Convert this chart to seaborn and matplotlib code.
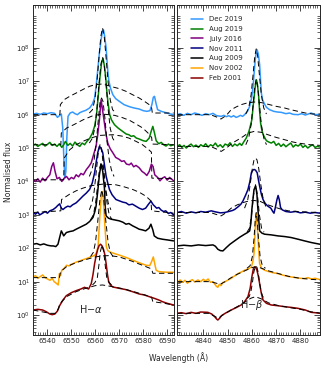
import numpy as np
import pandas as pd
import matplotlib
matplotlib.use('Agg')
import matplotlib.pyplot as plt
from matplotlib.lines import Line2D
from matplotlib.ticker import MultipleLocator, FixedLocator, LogLocator, NullFormatter
import seaborn as sns

########################################
# 1. DATA  (wavelength in A, log10 of normalised flux incl. offset)
########################################
epochs = ["Dec 2019", "Aug 2019", "July 2016", "Nov 2011", "Aug 2009", "Nov 2002", "Feb 2001"]
colors = ["#3399ff", "green", "purple", "navy", "black", "orange", "darkred"]

# ---- H-alpha spectra ----
ha_dec2019 = [(6534, 6.02), (6535.5, 6.04), (6537, 6.01), (6538.5, 6.05), (6540, 6.03), (6541.5, 6.06),
              (6543, 6.04), (6544.2, 5.92), (6545, 5.97), (6545.8, 6.02), (6546.4, 5.6), (6546.9, 4.6),
              (6547.3, 4.1), (6547.7, 4.3), (6548.1, 5.3), (6548.6, 5.95), (6549.5, 6.05), (6550.5, 6.08),
              (6551.5, 6.03), (6552.5, 6.0), (6553.5, 6.06), (6554.8, 6.1), (6556, 6.13), (6557.6, 6.2),
              (6558.8, 6.32), (6559.7, 6.5), (6560.4, 6.9), (6561, 7.34), (6561.7, 7.85), (6562.4, 8.24),
              (6563.0, 8.5), (6563.4, 8.54), (6563.9, 8.35), (6564.5, 8.0), (6565.1, 7.4), (6565.6, 7.04),
              (6566.3, 6.8), (6567.3, 6.6), (6568.5, 6.48), (6570, 6.4), (6572, 6.3), (6574.2, 6.24),
              (6576.2, 6.2), (6578.3, 6.17), (6580, 6.12), (6581.5, 6.1), (6582.8, 6.12), (6583.6, 6.3),
              (6584.2, 6.52), (6584.7, 6.55), (6585.3, 6.35), (6586, 6.15), (6587.5, 6.1), (6589, 6.07),
              (6590.8, 6.03), (6592.7, 6.0)]
ha_aug2019 = [(6534, 5.08), (6535, 5.12), (6536, 5.05), (6537, 5.1), (6538, 5.14), (6539, 5.06), (6540, 5.11),
              (6541, 5.17), (6542, 5.08), (6543, 5.12), (6544, 5.05), (6545, 5.13), (6546, 5.02), (6546.8, 5.1),
              (6547.5, 5.2), (6548.5, 5.08), (6549.5, 5.14), (6550.5, 5.06), (6551.5, 5.18), (6552.5, 5.1),
              (6553.5, 5.05), (6554.5, 5.15), (6555.5, 5.1), (6556.5, 5.2), (6557.7, 5.3), (6558.8, 5.45),
              (6559.8, 5.68), (6560.5, 6.0), (6561.2, 6.55), (6561.9, 7.1), (6562.6, 7.55), (6563.2, 7.69),
              (6563.8, 7.45), (6564.3, 7.14), (6564.8, 6.7), (6565.3, 6.35), (6566, 6.0), (6566.7, 5.85),
              (6568, 5.7), (6569.5, 5.6), (6571, 5.52), (6572.9, 5.42), (6574, 5.4), (6575, 5.35), (6576, 5.37),
              (6577.1, 5.3), (6578, 5.28), (6579, 5.25), (6580, 5.22), (6581.2, 5.2), (6582.5, 5.3),
              (6583.3, 5.5), (6584.0, 5.65), (6584.7, 5.45), (6585.4, 5.22), (6586.5, 5.13), (6587.5, 5.17),
              (6588.5, 5.1), (6589.5, 5.06), (6590.5, 5.12), (6591.5, 5.07), (6592.7, 5.1)]
ha_jul2016 = [(6534, 4.05), (6535, 4.0), (6536, 4.08), (6537, 3.98), (6538, 4.1), (6539, 4.02), (6540, 4.12),
              (6541, 4.2), (6541.8, 4.45), (6542.5, 4.56), (6543.2, 4.3), (6544, 4.08), (6545, 4.12),
              (6546, 4.0), (6547, 4.1), (6548, 4.15), (6549, 4.05), (6550, 4.12), (6551, 4.08), (6552, 4.2),
              (6553, 4.14), (6554, 4.24), (6555, 4.2), (6556.3, 4.36), (6557.3, 4.45), (6558.3, 4.56),
              (6559.1, 4.76), (6560.3, 5.05), (6561.0, 5.4), (6561.7, 5.85), (6562.4, 6.45), (6563.1, 6.1),
              (6563.8, 5.75), (6564.5, 5.4), (6565.2, 5.15), (6566.2, 4.98), (6567.3, 4.86), (6568.5, 4.72),
              (6570, 4.66), (6571, 4.6), (6572, 4.62), (6573, 4.52), (6574.2, 4.5), (6575, 4.55), (6576, 4.44),
              (6577, 4.48), (6578.3, 4.41), (6579.5, 4.3), (6580.5, 4.25), (6581.5, 4.18), (6582.5, 4.3),
              (6583.4, 4.52), (6584.1, 4.45), (6584.8, 4.2), (6586, 4.12), (6587, 4.02), (6588, 4.1),
              (6589, 4.14), (6590, 4.04), (6591, 4.12), (6592.7, 4.02)]
ha_nov2011 = [(6534, 3.07), (6535, 3.02), (6536, 3.08), (6536.8, 3.0), (6538, 3.05), (6539, 3.1), (6540, 3.05),
              (6541, 3.12), (6542.4, 3.16), (6543.5, 3.22), (6544.3, 3.28), (6545.1, 3.33), (6545.8, 3.2),
              (6546.5, 3.16), (6547.5, 3.22), (6548.5, 3.26), (6549.5, 3.24), (6550.5, 3.3), (6552, 3.36),
              (6553.3, 3.45), (6554.8, 3.56), (6556.2, 3.65), (6557.6, 3.76), (6558.7, 3.95), (6559.7, 4.26),
              (6560.4, 4.6), (6561, 4.86), (6561.7, 5.05), (6562.4, 5.0), (6563.1, 4.86), (6563.8, 4.5),
              (6564.5, 4.16), (6565.2, 3.95), (6565.9, 3.76), (6567, 3.6), (6568.6, 3.46), (6570, 3.42),
              (6571.5, 3.38), (6572.8, 3.36), (6574, 3.3), (6575.5, 3.32), (6576.9, 3.26), (6578.3, 3.2),
              (6579.7, 3.16), (6581, 3.2), (6582.2, 3.32), (6583.2, 3.41), (6584.2, 3.3), (6585.6, 3.2),
              (6586.5, 3.22), (6587.5, 3.14), (6588.5, 3.1), (6589.4, 3.12), (6590.5, 3.04), (6591.5, 3.07),
              (6592.7, 3.0)]
ha_aug2009 = [(6534, 2.12), (6535.5, 2.14), (6537, 2.1), (6538.5, 2.13), (6540, 2.09), (6541.5, 2.07),
              (6542.4, 2.07), (6543.5, 2.05), (6544.4, 2.12), (6545.2, 2.35), (6545.8, 2.52), (6546.3, 2.45),
              (6546.8, 2.37), (6547.9, 2.47), (6549.3, 2.5), (6550.7, 2.52), (6552, 2.57), (6553.4, 2.62),
              (6554.8, 2.67), (6556.2, 2.72), (6557.6, 2.8), (6559, 2.92), (6559.8, 3.1), (6560.3, 3.26),
              (6561, 3.7), (6561.7, 4.2), (6562.4, 4.52), (6563.1, 4.3), (6563.8, 3.8), (6564.1, 3.26),
              (6564.5, 2.97), (6565.5, 2.9), (6566.6, 2.87), (6568, 2.85), (6570, 2.82), (6571.5, 2.78),
              (6572.8, 2.72), (6574, 2.74), (6575.6, 2.67), (6577, 2.62), (6578.3, 2.57), (6579.6, 2.55),
              (6581, 2.52), (6582.4, 2.6), (6583.2, 2.72), (6584, 2.55), (6584.6, 2.37), (6586, 2.3),
              (6588, 2.27), (6590, 2.25), (6592.7, 2.22)]
ha_nov2002 = [(6534, 1.14), (6535, 1.18), (6536, 1.1), (6537, 1.15), (6538, 1.2), (6539, 1.12), (6540, 1.08),
              (6541.1, 1.04), (6542, 1.1), (6542.8, 1.0), (6543.9, 0.94), (6544.5, 0.9), (6545, 1.24),
              (6545.5, 1.18), (6546, 1.34), (6547, 1.4), (6548, 1.49), (6549, 1.47), (6550, 1.52), (6551, 1.55),
              (6552.2, 1.59), (6553.5, 1.62), (6555, 1.66), (6556.3, 1.69), (6558, 1.74), (6559.8, 1.79),
              (6560.7, 1.9), (6561.2, 2.1), (6561.9, 2.97), (6562.4, 3.5), (6562.8, 3.7), (6563.3, 3.5),
              (6563.9, 2.77), (6564.6, 2.04), (6565.2, 1.93), (6566, 1.89), (6568, 1.84), (6570.2, 1.79),
              (6573, 1.72), (6575.7, 1.64), (6578.5, 1.56), (6581.2, 1.49), (6582.7, 1.48), (6583.5, 1.6),
              (6584.2, 1.74), (6584.9, 1.5), (6585.4, 1.34), (6586.5, 1.3), (6588.2, 1.29), (6590, 1.28),
              (6592.7, 1.28)]
ha_feb2001 = [(6534, 0.15), (6536, 0.17), (6538, 0.15), (6539.5, 0.1), (6541, 0.03), (6542, 0.01),
              (6543.1, 0.03), (6544.2, 0.12), (6545.1, 0.28), (6546.5, 0.45), (6547.9, 0.58), (6550, 0.67),
              (6552, 0.73), (6554, 0.78), (6555.5, 0.83), (6556.5, 0.8), (6557.2, 0.78), (6558.3, 0.94),
              (6559, 1.2), (6559.7, 1.54), (6560.4, 1.8), (6561, 1.97), (6561.6, 2.08), (6562.2, 2.12),
              (6562.8, 2.07), (6563.4, 1.97), (6564, 1.8), (6564.5, 1.54), (6565.1, 1.2), (6565.6, 0.99),
              (6566.3, 0.9), (6567.3, 0.84), (6570, 0.8), (6572.8, 0.76), (6575.5, 0.7), (6578.3, 0.63),
              (6580.5, 0.6), (6582.5, 0.55), (6584.6, 0.5), (6586.5, 0.45), (6588, 0.4), (6590, 0.35),
              (6592.7, 0.3)]

# ---- H-beta spectra (no July 2016 spectrum here) ----
hb_dec2019 = [(4829.3, 6.0), (4830.5, 6.03), (4832, 5.98), (4833.5, 6.04), (4835, 6.0), (4836.5, 6.05),
              (4838, 6.02), (4839.5, 5.98), (4841, 6.03), (4842.5, 6.0), (4844, 6.04), (4845.5, 5.97),
              (4847.4, 5.95), (4848.5, 5.98), (4849.5, 5.94), (4850.5, 5.97), (4851.5, 5.93), (4852.5, 5.97),
              (4853.5, 5.92), (4854.3, 5.94), (4855.3, 5.98), (4856.2, 5.95), (4857, 6.0), (4858.2, 6.1),
              (4859.1, 6.25), (4859.9, 6.5), (4860.5, 6.85), (4861, 7.3), (4861.4, 7.64), (4861.8, 7.88),
              (4862.2, 7.94), (4862.7, 7.8), (4863.2, 7.5), (4863.6, 7.0), (4863.9, 6.65), (4864.4, 6.45),
              (4865, 6.35), (4866, 6.22), (4867.3, 6.15), (4869, 6.1), (4870.5, 6.08), (4872.1, 6.07),
              (4874, 6.03), (4875.5, 6.05), (4877, 6.01), (4879, 6.0), (4880.5, 6.03), (4882, 5.99),
              (4884.4, 6.05), (4886, 6.0), (4888, 6.01)]
hb_aug2019 = [(4829.3, 5.05), (4830.3, 5.1), (4831.2, 5.02), (4832.1, 5.08), (4833, 5.0), (4834, 5.07),
              (4835, 5.12), (4836, 5.04), (4837, 5.09), (4838, 5.02), (4839, 5.1), (4840, 5.05), (4841, 5.13),
              (4842, 5.03), (4843, 5.1), (4844, 5.06), (4845, 5.15), (4846, 5.04), (4847, 5.1), (4848, 5.02),
              (4849, 5.12), (4850.2, 5.08), (4851, 5.16), (4852, 5.05), (4853, 5.12), (4854, 5.07),
              (4855, 5.14), (4855.8, 5.08), (4856.8, 5.2), (4857.7, 5.3), (4858.8, 5.5), (4859.5, 5.7),
              (4860, 5.85), (4860.6, 6.3), (4861.1, 6.65), (4861.5, 6.9), (4861.9, 7.04), (4862.3, 6.9),
              (4862.8, 6.55), (4863.2, 6.1), (4863.6, 5.75), (4864.2, 5.5), (4865, 5.35), (4866, 5.22),
              (4867, 5.18), (4868, 5.15), (4869, 5.2), (4870, 5.08), (4871, 5.14), (4872, 5.05), (4873, 5.12),
              (4874, 5.04), (4875, 5.1), (4876, 5.15), (4877, 5.03), (4878, 5.1), (4879, 5.06), (4880, 5.12),
              (4881, 5.02), (4882, 5.08), (4883, 5.0), (4884, 5.06), (4885, 5.1), (4886, 5.02), (4887, 5.05),
              (4888, 5.03)]
hb_nov2011 = [(4829.3, 3.07), (4831, 3.1), (4833, 3.05), (4835, 3.09), (4837, 3.06), (4839, 3.1), (4841, 3.08),
              (4843.3, 3.12), (4845, 3.09), (4847, 3.06), (4848.8, 3.07), (4850.5, 3.1), (4852, 3.13),
              (4852.9, 3.16), (4854.5, 3.25), (4855.5, 3.32), (4856.3, 3.41), (4857.5, 3.6), (4858.4, 3.76),
              (4859.2, 4.0), (4859.8, 4.26), (4860.4, 4.34), (4860.9, 4.36), (4861.5, 4.34), (4862.2, 4.26),
              (4862.7, 4.05), (4863.2, 3.86), (4863.9, 3.62), (4864.6, 3.46), (4865.5, 3.34), (4866.6, 3.26),
              (4867.8, 3.2), (4868.6, 3.1), (4869.1, 3.05), (4869.6, 3.2), (4870.3, 3.45), (4870.8, 3.58),
              (4871.3, 3.45), (4871.8, 3.22), (4872.5, 3.15), (4874, 3.1), (4876, 3.08), (4878, 3.1),
              (4880, 3.06), (4882, 3.08), (4884, 3.05), (4886, 3.07), (4888, 3.05)]
hb_aug2009 = [(4829.3, 2.07), (4832, 2.09), (4835, 2.07), (4838, 2.1), (4841, 2.08), (4844, 2.1), (4845, 2.06),
              (4846, 1.97), (4847, 1.93), (4848.1, 1.92), (4849.5, 2.02), (4851, 2.12), (4852.9, 2.22),
              (4855, 2.33), (4857, 2.42), (4858.2, 2.47), (4859.1, 2.52), (4859.6, 2.75), (4860, 3.16),
              (4860.5, 3.5), (4860.9, 3.76), (4861.6, 3.86), (4862.1, 3.6), (4862.5, 3.16), (4863.2, 2.52),
              (4864.2, 2.45), (4865.3, 2.42), (4868, 2.4), (4870.7, 2.37), (4873.5, 2.35), (4876.2, 2.32),
              (4879, 2.27), (4881.7, 2.22), (4884.5, 2.17), (4888, 2.12)]
hb_nov2002 = [(4829.3, 0.97), (4830.5, 1.05), (4831.5, 0.98), (4832.5, 1.04), (4833.5, 0.95), (4834.5, 1.02),
              (4835.5, 1.06), (4836.5, 0.99), (4837.8, 1.05), (4839, 1.0), (4840, 1.07), (4841, 1.02),
              (4842, 1.08), (4843, 0.98), (4844, 1.0), (4844.7, 0.93), (4845.4, 0.86), (4846, 0.83),
              (4846.6, 0.92), (4847.3, 0.88), (4848, 0.97), (4849, 1.0), (4850.2, 1.05), (4851.5, 1.1),
              (4852.5, 1.15), (4853.5, 1.2), (4854.3, 1.24), (4855.5, 1.28), (4857, 1.34), (4858.5, 1.38),
              (4859.8, 1.44), (4860.4, 1.6), (4860.9, 1.84), (4861.2, 2.3), (4861.5, 2.8), (4861.8, 3.04),
              (4862.1, 2.8), (4862.5, 2.34), (4862.9, 1.85), (4863.2, 1.54), (4864, 1.4), (4865.3, 1.34),
              (4867, 1.3), (4868.5, 1.27), (4870.7, 1.24), (4872.5, 1.2), (4874, 1.17), (4876.2, 1.14),
              (4878, 1.12), (4880, 1.1), (4881.7, 1.09), (4883, 1.12), (4884.5, 1.08), (4886, 1.1), (4888, 1.06)]
hb_feb2001 = [(4829.3, 0.05), (4831, 0.07), (4833, 0.04), (4835, 0.08), (4837, 0.05), (4839, 0.09),
              (4841.9, 0.08), (4843.5, 0.03), (4844.7, -0.05), (4845.5, -0.12), (4846, -0.15), (4846.7, -0.1),
              (4847.5, -0.02), (4849, 0.05), (4851.5, 0.15), (4853.5, 0.22), (4855.6, 0.3), (4857, 0.4),
              (4858.4, 0.55), (4859.3, 0.8), (4860, 1.14), (4860.6, 1.38), (4861.1, 1.44), (4861.6, 1.42),
              (4862.1, 1.34), (4862.7, 1.15), (4863.2, 0.94), (4863.9, 0.65), (4864.6, 0.45), (4866, 0.35),
              (4868, 0.3), (4870.5, 0.28), (4873.5, 0.25), (4876, 0.23), (4879, 0.2), (4882, 0.15),
              (4884.4, 0.08), (4886, 0.07), (4888, 0.05)]

# ---- model fits (black dashed): broad component and narrow component ----
ha_broad_dec2019 = [(6534, 6.0), (6545.2, 6.0), (6545.4, 6.3), (6547, 6.45), (6549.3, 6.55), (6551.5, 6.63),
                    (6553.4, 6.7), (6555.5, 6.78), (6557.6, 6.85), (6560, 6.9), (6563, 6.92), (6567.3, 6.83),
                    (6570, 6.78), (6572.8, 6.7), (6575.5, 6.6), (6578.3, 6.5), (6580.5, 6.4), (6582.5, 6.3),
                    (6583.5, 6.2), (6583.8, 6.05), (6592.7, 6.05)]
ha_broad_aug2019 = [(6534, 5.1), (6545.6, 5.1), (6545.8, 5.45), (6548, 5.6), (6551, 5.7), (6555, 5.85),
                    (6559, 5.97), (6563, 6.02), (6568, 5.98), (6571, 5.92), (6574.3, 5.83), (6577, 5.72),
                    (6579.8, 5.6), (6582, 5.45), (6583.5, 5.32), (6583.8, 5.12), (6592.7, 5.1)]
ha_broad_jul2016 = [(6534, 4.05), (6546.8, 4.05), (6547, 4.7), (6549.3, 4.95), (6552, 5.1), (6554.8, 5.2),
                    (6558, 5.3), (6562, 5.38), (6567.3, 5.4), (6571, 5.36), (6574, 5.3), (6577, 5.2),
                    (6579.7, 5.1), (6582, 4.97), (6583.4, 4.88), (6583.6, 4.1), (6592.7, 4.08)]
ha_broad_nov2011 = [(6534, 3.07), (6545.6, 3.12), (6545.9, 3.46), (6549.3, 3.62), (6552, 3.72), (6554.8, 3.8),
                    (6558, 3.87), (6563, 3.92), (6568.6, 3.9), (6572, 3.84), (6575.6, 3.76), (6578.5, 3.67),
                    (6581.1, 3.56), (6583.2, 3.42), (6583.5, 3.12), (6592.7, 3.05)]
ha_broad_nov2002 = [(6534, 1.12), (6545, 1.12), (6545.5, 1.3), (6548, 1.45), (6552, 1.57), (6556, 1.66),
                    (6560, 1.74), (6563, 1.77), (6566, 1.78), (6570, 1.74), (6575, 1.62), (6580, 1.48),
                    (6583.5, 1.38), (6584, 1.25), (6592.7, 1.25)]
ha_broad_feb2001 = [(6534, 0.15), (6541, 0.05), (6543.5, 0.05), (6544.5, 0.18), (6545.3, 0.35), (6548, 0.55),
                    (6552, 0.7), (6556, 0.8), (6560, 0.88), (6563, 0.9), (6567, 0.85), (6572, 0.78),
                    (6577, 0.68), (6582, 0.57), (6583.5, 0.53), (6584, 0.4), (6588, 0.36), (6592.7, 0.3)]

ha_narrow_dec2019 = [(6557.5, 6.05), (6558.8, 6.15), (6559.8, 6.45), (6560.7, 7.0), (6561.5, 7.7), (6562.3, 8.35),
                     (6563, 8.6), (6563.7, 8.35), (6564.5, 7.7), (6565.3, 7.0), (6566.2, 6.45), (6567.2, 6.15),
                     (6568.5, 6.05)]
ha_narrow_aug2019 = [(6557.5, 5.15), (6558.8, 5.3), (6559.8, 5.6), (6560.7, 6.2), (6561.5, 6.9), (6562.3, 7.5),
                     (6563, 7.72), (6563.7, 7.5), (6564.5, 6.9), (6565.3, 6.2), (6566.2, 5.6), (6567.2, 5.3),
                     (6568.5, 5.15)]
ha_narrow_jul2016 = [(6557.5, 4.15), (6558.6, 4.35), (6559.5, 4.65), (6560.5, 5.25), (6561.3, 5.9), (6562.0, 6.4),
                     (6562.6, 6.5), (6563.2, 6.4), (6564.0, 5.9), (6564.8, 5.25), (6565.8, 4.65), (6566.7, 4.35),
                     (6567.8, 4.15)]
ha_narrow_nov2011 = [(6557.5, 3.15), (6558.6, 3.35), (6559.5, 3.7), (6560.4, 4.3), (6561.2, 4.85), (6562, 5.12),
                     (6562.8, 4.85), (6563.6, 4.3), (6564.5, 3.7), (6565.4, 3.35), (6566.5, 3.15)]
ha_narrow_aug2009 = [(6558, 2.85), (6559.2, 3.0), (6560.1, 3.35), (6561, 3.9), (6561.8, 4.4), (6562.5, 4.57),
                     (6563.2, 4.4), (6564, 3.9), (6564.9, 3.35), (6565.8, 3.0), (6567, 2.85)]
ha_narrow_nov2002 = [(6558, 1.75), (6559.2, 1.88), (6560.1, 2.2), (6561, 2.8), (6561.9, 3.45), (6562.7, 3.75),
                     (6563.5, 3.45), (6564.4, 2.8), (6565.3, 2.2), (6566.2, 1.88), (6567.4, 1.75)]
ha_narrow_feb2001 = [(6558.8, 0.9), (6559.8, 0.97), (6560.8, 1.1), (6561.5, 1.5), (6562.1, 1.9), (6562.8, 2.1),
                     (6563.5, 1.9), (6564.1, 1.5), (6564.8, 1.1), (6565.8, 0.97), (6566.8, 0.9)]

hb_broad_dec2019 = [(4829.3, 6.0), (4843, 6.0), (4845.5, 5.93), (4847.3, 5.87), (4849.5, 5.98), (4851.5, 6.15),
                    (4853.5, 6.23), (4855.6, 6.3), (4858, 6.35), (4861, 6.38), (4864, 6.36), (4867.3, 6.3),
                    (4870, 6.25), (4873.5, 6.2), (4876, 6.15), (4879, 6.1), (4882, 6.05), (4885, 6.02),
                    (4888, 6.02)]
hb_broad_aug2019 = [(4829.3, 5.05), (4843, 5.05), (4845.5, 4.97), (4847.4, 4.9), (4849.5, 5.0), (4852, 5.15),
                    (4854.3, 5.25), (4856.5, 5.35), (4858.4, 5.45), (4861, 5.5), (4864, 5.47), (4866.6, 5.4),
                    (4870, 5.32), (4873.5, 5.25), (4877, 5.18), (4880, 5.14), (4884, 5.1), (4888, 5.08)]
hb_broad_nov2011 = [(4829.3, 3.07), (4843, 3.07), (4845, 3.02), (4847.4, 2.97), (4849.5, 3.07), (4851.5, 3.2),
                    (4854, 3.3), (4856.5, 3.37), (4859, 3.42), (4861, 3.43), (4863.5, 3.4), (4866.6, 3.3),
                    (4869, 3.24), (4872, 3.17), (4875, 3.12), (4879, 3.1), (4883, 3.08), (4888, 3.07)]
hb_broad_nov2002 = [(4829.3, 1.0), (4843, 1.0), (4845.5, 0.95), (4847, 0.92), (4849, 1.0), (4851.5, 1.12),
                    (4854, 1.22), (4857, 1.32), (4860, 1.42), (4862, 1.45), (4864, 1.4), (4867, 1.32),
                    (4871, 1.24), (4875, 1.16), (4879, 1.11), (4884, 1.07), (4888, 1.05)]
hb_broad_feb2001 = [(4829.3, 0.05), (4842, 0.05), (4844.5, -0.03), (4846.2, -0.1), (4848, 0.0), (4851, 0.13),
                    (4854, 0.25), (4857, 0.38), (4859.5, 0.5), (4861.5, 0.55), (4864, 0.48), (4867, 0.36),
                    (4871, 0.28), (4875, 0.23), (4880, 0.17), (4884, 0.1), (4888, 0.06)]

hb_narrow_dec2019 = [(4857.5, 6.02), (4858.7, 6.2), (4859.7, 6.6), (4860.5, 7.2), (4861.2, 7.75), (4861.8, 7.97),
                     (4862.4, 7.75), (4863.1, 7.2), (4863.9, 6.6), (4864.9, 6.2), (4866, 6.02)]
hb_narrow_aug2019 = [(4857.5, 5.1), (4858.7, 5.3), (4859.7, 5.7), (4860.5, 6.3), (4861.2, 6.85), (4861.8, 7.07),
                     (4862.4, 6.85), (4863.1, 6.3), (4863.9, 5.7), (4864.9, 5.3), (4866, 5.1)]
hb_narrow_nov2011 = [(4857, 3.2), (4858.3, 3.45), (4859.3, 3.9), (4860.2, 4.4), (4860.9, 4.65), (4861.5, 4.7),
                     (4862.1, 4.65), (4862.8, 4.4), (4863.7, 3.9), (4864.7, 3.45), (4866, 3.2)]
hb_narrow_aug2009 = [(4858, 2.48), (4859, 2.6), (4859.9, 3.0), (4860.7, 3.6), (4861.5, 3.9), (4862.3, 3.6),
                     (4863.1, 3.0), (4864, 2.6), (4865, 2.48)]
hb_narrow_nov2002 = [(4858, 1.4), (4859.3, 1.48), (4860.2, 1.75), (4860.9, 2.3), (4861.4, 2.85), (4861.8, 3.07),
                     (4862.2, 2.85), (4862.7, 2.3), (4863.4, 1.75), (4864.3, 1.48), (4865.6, 1.4)]
hb_narrow_feb2001 = [(4858, 0.5), (4858.9, 0.55), (4859.6, 0.7), (4860.2, 0.95), (4860.8, 1.28), (4861.3, 1.43),
                     (4861.7, 1.46), (4862.1, 1.43), (4862.6, 1.28), (4863.2, 0.95), (4863.8, 0.7), (4864.5, 0.55),
                     (4865.4, 0.5)]

ha_spectra = [ha_dec2019, ha_aug2019, ha_jul2016, ha_nov2011, ha_aug2009, ha_nov2002, ha_feb2001]
hb_spectra = [hb_dec2019, hb_aug2019, None, hb_nov2011, hb_aug2009, hb_nov2002, hb_feb2001]

ha_models = [ha_broad_dec2019, ha_broad_aug2019, ha_broad_jul2016, ha_broad_nov2011, ha_broad_nov2002,
             ha_broad_feb2001, ha_narrow_dec2019, ha_narrow_aug2019, ha_narrow_jul2016, ha_narrow_nov2011,
             ha_narrow_aug2009, ha_narrow_nov2002, ha_narrow_feb2001]
hb_models = [hb_broad_dec2019, hb_broad_aug2019, hb_broad_nov2011, hb_broad_nov2002, hb_broad_feb2001,
             hb_narrow_dec2019, hb_narrow_aug2019, hb_narrow_nov2011, hb_narrow_aug2009, hb_narrow_nov2002,
             hb_narrow_feb2001]


########################################
# 2. TABLES
########################################
def spectra_frame(names, spectra):
    rows = []
    for name, pts in zip(names, spectra):
        if pts is None:
            continue
        for w, lf in pts:
            rows.append((name, w, 10 ** lf))
    return pd.DataFrame(rows, columns=["epoch", "wave", "flux"])


def model_frame(models):
    rows = []
    for i, pts in enumerate(models):
        for w, lf in pts:
            rows.append((i, w, 10 ** lf))
    return pd.DataFrame(rows, columns=["model", "wave", "flux"])


df_ha = spectra_frame(epochs, ha_spectra)
df_hb = spectra_frame(epochs, hb_spectra)
dm_ha = model_frame(ha_models)
dm_hb = model_frame(hb_models)

########################################
# 3. PLOT
########################################
sns.set_style("ticks")
plt.rcParams['font.family'] = ['DejaVu Sans']
plt.rcParams['mathtext.fontset'] = 'dejavusans'

fig = plt.figure(figsize=(3.24, 3.69), dpi=100)
ax1 = fig.add_axes([0.102, 0.092, 0.434, 0.894])
ax2 = fig.add_axes([0.547, 0.092, 0.4404, 0.894])

palette = dict(zip(epochs, colors))
for ax, df, dm in [(ax1, df_ha, dm_ha), (ax2, df_hb, dm_hb)]:
    sns.lineplot(data=df, x="wave", y="flux", hue="epoch", hue_order=epochs, palette=palette,
                 estimator=None, sort=False, lw=1.1, legend=False, ax=ax)
    sns.lineplot(data=dm, x="wave", y="flux", units="model", estimator=None, sort=False,
                 color="black", lw=0.7, linestyle=(0, (5.5, 3.5)), legend=False, ax=ax)
    ax.set_yscale("log")
    ax.set_ylim(10 ** -0.6, 10 ** 9.28)
    ax.yaxis.set_major_locator(FixedLocator([10.0 ** k for k in range(0, 9)]))
    ax.yaxis.set_minor_locator(LogLocator(base=10, subs=np.arange(2, 10), numticks=30))
    ax.yaxis.set_minor_formatter(NullFormatter())
    ax.xaxis.set_minor_locator(MultipleLocator(1))
    ax.tick_params(which="both", direction="in", top=True, right=True, labelsize=5, pad=2)
    ax.tick_params(which="major", length=4, width=0.6)
    ax.tick_params(which="minor", length=2, width=0.5)
    ax.set_xlabel("")
    ax.set_ylabel("")
    for s in ax.spines.values():
        s.set_linewidth(0.7)

ax1.set_xlim(6534, 6592.7)
ax1.xaxis.set_major_locator(FixedLocator([6540, 6550, 6560, 6570, 6580, 6590]))
ax2.set_xlim(4829.3, 4888)
ax2.xaxis.set_major_locator(FixedLocator([4840, 4850, 4860, 4870, 4880]))
ax2.tick_params(labelleft=False)

ax1.text(6558.1, 10 ** 0.18, r"H$-\alpha$", fontsize=7, ha="center", va="center")
ax2.text(4860.0, 10 ** 0.3, r"H$-\beta$", fontsize=7, ha="center", va="center")

handles = [Line2D([], [], color=c, lw=1.1) for c in colors]
ax2.legend(handles, epochs, loc="upper left", bbox_to_anchor=(0.08, 0.975), frameon=False,
           fontsize=5, handlelength=1.7, handletextpad=0.9, labelspacing=0.55, borderaxespad=0)

fig.text(0.55, 0.03, "Wavelength (Å)", fontsize=5.5, ha="center", va="center")
fig.text(0.025, 0.534, "Normalised flux", fontsize=5.5, ha="center", va="center", rotation=90)

fig.savefig("out.png", dpi=100)
plt.close()
